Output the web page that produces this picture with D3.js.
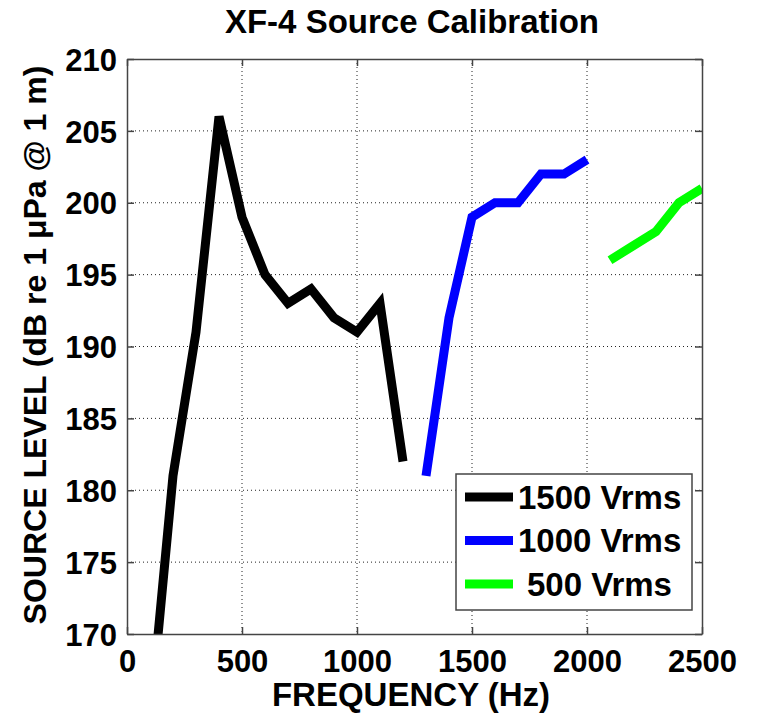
<!DOCTYPE html>
<html>
<head>
<meta charset="utf-8">
<script src="https://cdn.jsdelivr.net/npm/d3@7"></script>
<style>
  body { margin: 0; background: #fff; }
  svg text { font-family: "Liberation Sans", Arial, sans-serif; font-weight: bold; }
</style>
</head>
<body>
<svg id="chart" width="757" height="715"></svg>
<script>
// data
const freq1500 = [100, 200, 300, 400, 500, 600, 700, 800, 900, 1000, 1100, 1200];
const level1500 = [164, 181, 191, 206, 199, 195, 193, 194, 192, 191, 193, 182];
const freq1000 = [1300, 1400, 1500, 1600, 1700, 1800, 1900, 2000];
const level1000 = [181, 192, 199, 200, 200, 202, 202, 203];
const freq500 = [2100, 2200, 2300, 2400, 2500];
const level500 = [196, 197, 198, 200, 201];
const seriesNames = ['1500 Vrms', '1000 Vrms', '500 Vrms'];
const seriesColors = ['#000000', '#0000ff', '#00ff00'];
const xTicks = [0, 500, 1000, 1500, 2000, 2500];
const yTicks = [170, 175, 180, 185, 190, 195, 200, 205, 210];

const series = [
  {name: seriesNames[0], color: seriesColors[0], pts: freq1500.map((f, i) => [f, level1500[i]])},
  {name: seriesNames[1], color: seriesColors[1], pts: freq1000.map((f, i) => [f, level1000[i]])},
  {name: seriesNames[2], color: seriesColors[2], pts: freq500.map((f, i) => [f, level500[i]])}
];

const svg = d3.select('#chart');
const margin = {top: 59, right: 55, bottom: 81, left: 127},
      width = 757 - margin.left - margin.right,
      height = 715 - margin.top - margin.bottom;

const g = svg.append('g')
  .attr('transform', 'translate(' + margin.left + ',' + margin.top + ')');

const x = d3.scaleLinear().domain([0, 2500]).range([0, width]);
const y = d3.scaleLinear().domain([170, 210]).range([height, 0]);

// grid
g.append('g').selectAll('line').data(xTicks.slice(1, -1)).enter()
  .append('line')
  .attr('x1', d => x(d)).attr('x2', d => x(d))
  .attr('y1', 0).attr('y2', height)
  .attr('stroke', '#222').attr('stroke-width', 1)
  .attr('stroke-dasharray', '1,3');

g.append('g').selectAll('line').data(yTicks.slice(1, -1)).enter()
  .append('line')
  .attr('y1', d => y(d)).attr('y2', d => y(d))
  .attr('x1', 0).attr('x2', width)
  .attr('stroke', '#222').attr('stroke-width', 1)
  .attr('stroke-dasharray', '1,3');

// clip
svg.append('defs').append('clipPath').attr('id', 'clip')
  .append('rect').attr('x', 0).attr('y', 0).attr('width', width).attr('height', height);

const line = d3.line().x(d => x(d[0])).y(d => y(d[1]));

g.append('g').attr('clip-path', 'url(#clip)')
  .selectAll('path').data(series).enter()
  .append('path')
  .attr('d', d => line(d.pts))
  .attr('fill', 'none')
  .attr('stroke', d => d.color)
  .attr('stroke-width', 9)
  .attr('stroke-linejoin', 'miter')
  .attr('stroke-miterlimit', 3);

// axes
const xAxis = d3.axisBottom(x).tickValues(xTicks).tickFormat(d3.format('d'))
  .tickSizeInner(-7).tickSizeOuter(0).tickPadding(16);
const yAxis = d3.axisLeft(y).tickValues(yTicks).tickFormat(d3.format('d'))
  .tickSizeInner(-7).tickSizeOuter(0).tickPadding(10);

const gx = g.append('g').attr('transform', 'translate(0,' + height + ')').call(xAxis);
const gy = g.append('g').call(yAxis);
g.append('g').call(d3.axisTop(x).tickValues(xTicks).tickSizeInner(-7).tickSizeOuter(0).tickFormat(''));
g.append('g').attr('transform', 'translate(' + width + ',0)')
  .call(d3.axisRight(y).tickValues(yTicks).tickSizeInner(-7).tickSizeOuter(0).tickFormat(''));

g.selectAll('.domain').attr('stroke', '#444').attr('stroke-width', 1.5);
g.selectAll('.tick line').attr('stroke', '#444').attr('stroke-width', 1.5);
gx.selectAll('text').style('font-size', '31px').attr('fill', '#000');
gy.selectAll('text').style('font-size', '31px').attr('fill', '#000').attr('dy', '0.36em');

// titles
svg.append('text')
  .attr('x', 412).attr('y', 33)
  .attr('text-anchor', 'middle')
  .style('font-size', '33px')
  .text('XF-4 Source Calibration');

svg.append('text')
  .attr('x', 411).attr('y', 706)
  .attr('text-anchor', 'middle')
  .style('font-size', '33px')
  .text('FREQUENCY (Hz)');

svg.append('text')
  .attr('transform', 'translate(46,345) rotate(-90)')
  .attr('text-anchor', 'middle')
  .style('font-size', '32px')
  .text('SOURCE LEVEL (dB re 1 \u03BCPa @ 1 m)');

// legend
const legend = g.append('g').attr('transform', 'translate(' + (456 - margin.left) + ',' + (474 - margin.top) + ')');
legend.append('rect')
  .attr('width', 236).attr('height', 136)
  .attr('fill', '#fff').attr('stroke', '#444').attr('stroke-width', 1.5);

const items = legend.selectAll('.item').data(series).enter()
  .append('g').attr('class', 'item')
  .attr('transform', (d, i) => 'translate(0,' + (23 + i * 43.5) + ')');

items.append('line')
  .attr('x1', 9).attr('x2', 57)
  .attr('stroke', d => d.color).attr('stroke-width', 9);

items.append('text')
  .attr('x', (d, i) => i === 2 ? 71 : 62).attr('dy', '0.36em')
  .style('font-size', '33px')
  .text(d => d.name);
</script>
</body>
</html>
